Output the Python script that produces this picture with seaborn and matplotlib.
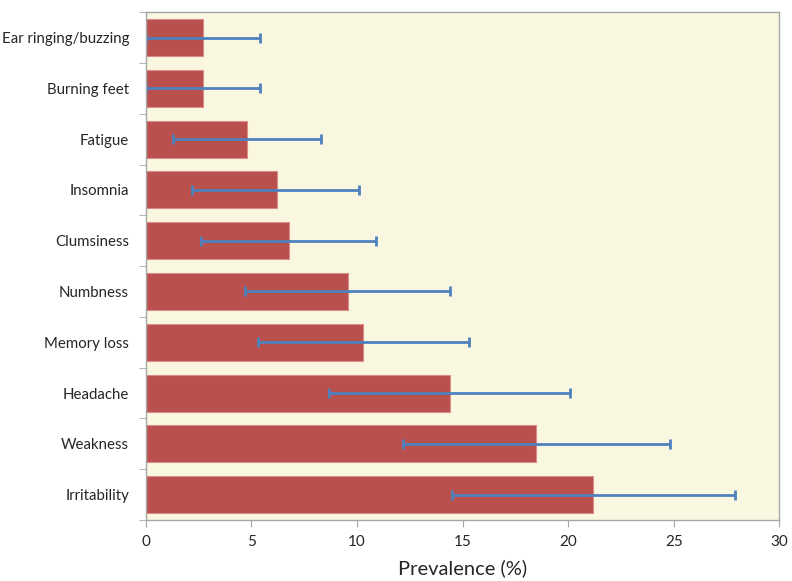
import numpy as np
import pandas as pd
import matplotlib
matplotlib.use("Agg")
import matplotlib.pyplot as plt
import seaborn as sns

symptoms = [
    "Ear ringing/buzzing",
    "Burning feet",
    "Fatigue",
    "Insomnia",
    "Clumsiness",
    "Numbness",
    "Memory loss",
    "Headache",
    "Weakness",
    "Irritability",
]
prevalence = [2.7, 2.7, 4.8, 6.2, 6.8, 9.6, 10.3, 14.4, 18.5, 21.2]
ci_low = [0.0, 0.0, 1.3, 2.2, 2.6, 4.7, 5.3, 8.7, 12.2, 14.5]
ci_high = [5.4, 5.4, 8.3, 10.1, 10.9, 14.4, 15.3, 20.1, 24.8, 27.9]

df = pd.DataFrame({"symptom": symptoms, "prevalence": prevalence,
                   "low": ci_low, "high": ci_high})

sns.set_style("white")
plt.rcParams["font.family"] = ["Lato", "DejaVu Sans"]

fig = plt.figure(figsize=(7.92, 5.81), dpi=100)
ax = fig.add_axes([0.184, 0.105, 0.800, 0.874])
ax.set_facecolor("#FAF7E1")

sns.barplot(data=df, x="prevalence", y="symptom", orient="h",
            color="#BA504E", saturation=1, width=0.73,
            edgecolor="#D98C8A", linewidth=0.8, ax=ax)

# asymmetric error bars (confidence interval)
xerr = np.array([df["prevalence"] - df["low"], df["high"] - df["prevalence"]])
ax.errorbar(df["prevalence"], np.arange(len(df)), xerr=xerr, fmt="none",
            ecolor="#4F81BD", elinewidth=2, capsize=3.5, capthick=2)

ax.set_xlim(0, 30)
ax.set_ylim(len(df) - 0.5, -0.5)
ax.set_xticks(range(0, 31, 5))
ax.set_xlabel("Prevalence (%)", fontsize=14.5, labelpad=7)
ax.set_ylabel("")

for s in ax.spines.values():
    s.set_color("#A6A6A6")
    s.set_linewidth(1)

ax.tick_params(axis="x", which="major", length=5, color="#A6A6A6",
               labelsize=11, pad=6, bottom=True)
ax.tick_params(axis="y", which="major", length=0, labelsize=10.8, pad=12)
ax.set_yticks(np.arange(-0.5, len(df), 1), minor=True)
ax.tick_params(axis="y", which="minor", length=5, color="#A6A6A6", left=True)

fig.savefig("out.png", dpi=100)
